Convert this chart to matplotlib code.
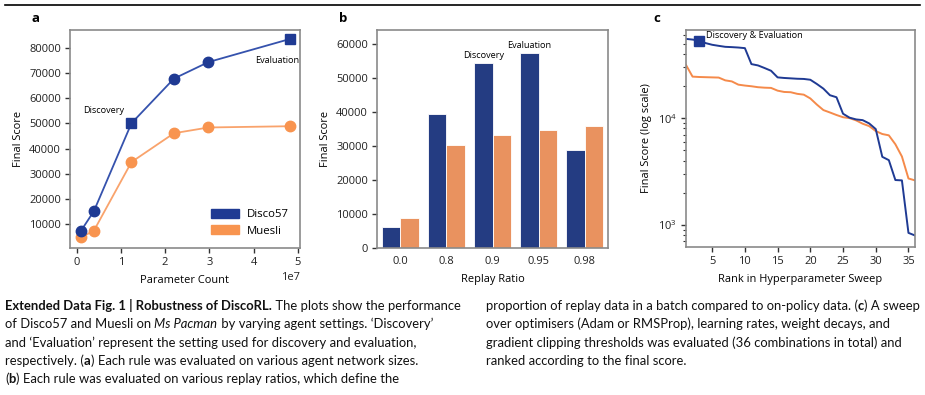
import matplotlib
matplotlib.use('Agg')
import matplotlib.pyplot as plt
from matplotlib.patches import Patch
from matplotlib.lines import Line2D
from matplotlib.ticker import LogLocator, NullFormatter

plt.rcParams['font.family'] = ['Open Sans', 'DejaVu Sans']

# ---------------- data ----------------
# Panel a
param_counts = [1.0e6, 3.9e6, 1.24e7, 2.2e7, 2.98e7, 4.82e7]
disco_a = [7200, 15000, 50100, 67900, 74500, 83700]
muesli_a = [4550, 7200, 34600, 46100, 48400, 48900]
# Panel b
replay_ratios = ['0.0', '0.8', '0.9', '0.95', '0.98']
disco_b = [6260, 39400, 54400, 57350, 28800]
muesli_b = [8700, 30150, 33250, 34750, 35800]
# Panel c
ranks = list(range(1, 37))
disco_c = [55300, 54500, 53300, 50500, 48700, 47600, 46600, 46300, 45900, 45300,
           32100, 31200, 29500, 27800, 24100, 23800, 23600, 23400, 23300, 22900,
           20900, 18900, 16400, 15700, 11000, 10100, 9730, 9580, 8920, 7900,
           4340, 4040, 2630, 2610, 841, 795]
muesli_c = [31500, 24500, 24300, 24200, 24100, 24000, 22600, 22100, 20600, 20200,
            19900, 19500, 19300, 19200, 18100, 17600, 17500, 16900, 16600, 15300,
            13400, 11900, 11300, 10700, 10200, 10000, 9530, 8870, 8420, 7570,
            7100, 6900, 5690, 4370, 2720, 2610]

BLUE = '#1f3a93'
BLUE_LINE = '#3552ad'
ORANGE = '#f8944f'
ORANGE_LINE = '#f9a36c'
BAR_BLUE = '#243c82'
BAR_ORANGE = '#e9925f'
SPINE = '#8a8a8a'
TICK_FS = 8.0
LABEL_FS = 7.9

W, H = 925, 395
fig = plt.figure(figsize=(W / 100, H / 100), dpi=100)


def ax_rect(left, top, right, bottom):
    return [left / W, 1 - bottom / H, (right - left) / W, (bottom - top) / H]


def style(ax, fs=TICK_FS):
    for s in ax.spines.values():
        s.set_color(SPINE)
        s.set_linewidth(1.2)
    ax.tick_params(colors='#222222', labelsize=fs, length=3.5, width=1.0,
                   direction='out', pad=3)
    ax.tick_params(axis='both', which='both', color='#333333')


# top rule
fig.add_artist(Line2D([5 / W, 920 / W], [1 - 5 / H, 1 - 5 / H], color='black', lw=1.2))

# ---------------- panel a ----------------
axa = fig.add_axes(ax_rect(70, 30, 300, 248))
axa.plot(param_counts, muesli_a, color=ORANGE_LINE, lw=1.3, zorder=2)
axa.plot(param_counts, disco_a, color=BLUE_LINE, lw=1.3, zorder=2)
circ = [0, 1, 3, 4]
sq = [2, 5]
axa.plot(param_counts, muesli_a, 'o', color=ORANGE, ms=7.5, zorder=3, lw=0)
axa.plot([param_counts[i] for i in circ], [disco_a[i] for i in circ], 'o', color=BLUE, ms=7.5, zorder=4, lw=0)
axa.plot([param_counts[i] for i in sq], [disco_a[i] for i in sq], 's', color=BLUE, ms=7.5, zorder=4, lw=0)
axa.set_xlim(-0.15e7, 5.05e7)
axa.set_ylim(300, 87300)
axa.set_xticks([0, 1e7, 2e7, 3e7, 4e7, 5e7])
axa.set_yticks([10000, 20000, 30000, 40000, 50000, 60000, 70000, 80000])
axa.set_xlabel('Parameter Count', fontsize=LABEL_FS, labelpad=5)
axa.set_ylabel('Final Score', fontsize=LABEL_FS, labelpad=4)
style(axa)
axa.xaxis.get_offset_text().set_fontsize(TICK_FS)
axa.text(0.62e7, 55000, 'Discovery', fontsize=6.6, ha='center', va='center')
axa.text(4.53e7, 75300, 'Evaluation', fontsize=6.6, ha='center', va='center')
leg = axa.legend(handles=[Patch(color=BLUE, label='Disco57'), Patch(color=ORANGE, label='Muesli')],
                 loc='lower right', frameon=False, fontsize=8.2, handlelength=2.4, handleheight=0.9,
                 borderaxespad=0.6, labelspacing=0.4, handletextpad=0.7)
fig.text(35 / W, 1 - 18 / H, 'a', fontsize=9.5, fontweight='bold', ha='center', va='center')

# ---------------- panel b ----------------
axb = fig.add_axes(ax_rect(377, 30, 608, 248))
xs = list(range(len(replay_ratios)))
bw = 0.4
axb.bar([x - bw / 2 for x in xs], disco_b, width=bw, color=BAR_BLUE, edgecolor='white', linewidth=0.6)
axb.bar([x + bw / 2 for x in xs], muesli_b, width=bw, color=BAR_ORANGE, edgecolor='white', linewidth=0.6)
axb.set_xlim(-0.5, 4.5)
axb.set_ylim(0, 64000)
axb.set_xticks(xs)
axb.set_xticklabels(replay_ratios)
axb.set_yticks([0, 10000, 20000, 30000, 40000, 50000, 60000])
axb.set_xlabel('Replay Ratio', fontsize=LABEL_FS, labelpad=5)
axb.set_ylabel('Final Score', fontsize=LABEL_FS, labelpad=4)
style(axb)
axb.tick_params(axis='x', length=0, pad=6)
axb.text(2 - bw / 2, disco_b[2] + 700, 'Discovery', fontsize=6.6, ha='center', va='bottom')
axb.text(3 - bw / 2, disco_b[3] + 700, 'Evaluation', fontsize=6.6, ha='center', va='bottom')
fig.text(343 / W, 1 - 18 / H, 'b', fontsize=9.5, fontweight='bold', ha='center', va='center')

# ---------------- panel c ----------------
axc = fig.add_axes(ax_rect(686, 30, 915, 247))
axc.plot(ranks, muesli_c, color='#f58a4a', lw=1.4)
axc.plot(ranks, disco_c, color=BLUE, lw=1.4)
axc.plot([ranks[2]], [disco_c[2]], 's', color=BLUE, ms=7.5)
axc.set_yscale('log')
axc.set_xlim(1, 36)
axc.set_ylim(620, 67000)
axc.set_xticks([5, 10, 15, 20, 25, 30, 35])
axc.yaxis.set_major_locator(LogLocator(base=10, numticks=10))
axc.yaxis.set_minor_locator(LogLocator(base=10, subs=range(2, 10), numticks=20))
axc.yaxis.set_minor_formatter(NullFormatter())
axc.set_xlabel('Rank in Hyperparameter Sweep', fontsize=LABEL_FS, labelpad=5)
axc.set_ylabel('Final Score (log scale)', fontsize=LABEL_FS, labelpad=4)
style(axc)
axc.tick_params(axis='y', which='minor', length=2, width=0.8)
axc.text(4.1, 59300, 'Discovery & Evaluation', fontsize=6.6, ha='left', va='center')
fig.text(657 / W, 1 - 18 / H, 'c', fontsize=9.5, fontweight='bold', ha='center', va='center')

# ---------------- caption ----------------
CAP_FONT = ['Lato', 'DejaVu Sans']
left_lines = [
    [('Extended Data Fig. 1 | Robustness of DiscoRL.', 'bold', 'normal'),
     (' The plots show the performance', 'normal', 'normal')],
    [('of Disco57 and Muesli on ', 'normal', 'normal'), ('Ms Pacman', 'normal', 'italic'),
     (' by varying agent settings. \u2018Discovery\u2019', 'normal', 'normal')],
    [('and \u2018Evaluation\u2019 represent the setting used for discovery and evaluation,', 'normal', 'normal')],
    [('respectively. (', 'normal', 'normal'), ('a', 'bold', 'normal'),
     (') Each rule was evaluated on various agent network sizes.', 'normal', 'normal')],
    [('(', 'normal', 'normal'), ('b', 'bold', 'normal'),
     (') Each rule was evaluated on various replay ratios, which define the', 'normal', 'normal')],
]
right_lines = [
    [('proportion of replay data in a batch compared to on-policy data. (', 'normal', 'normal'),
     ('c', 'bold', 'normal'), (') A sweep', 'normal', 'normal')],
    [('over optimisers (Adam or RMSProp), learning rates, weight decays, and', 'normal', 'normal')],
    [('gradient clipping thresholds was evaluated (36 combinations in total) and', 'normal', 'normal')],
    [('ranked according to the final score.', 'normal', 'normal')],
]

renderer = fig.canvas.get_renderer()


def draw_line(parts, x0, y, fs, draw=True):
    x = x0
    arts = []
    for txt, wt, st in parts:
        t = fig.text(x / W, 1 - y / H, txt, fontsize=fs, fontweight=wt, fontstyle=st,
                     family=CAP_FONT, ha='left', va='center', color='#111111')
        bb = t.get_window_extent(renderer=renderer)
        x += bb.width
        arts.append(t)
    if not draw:
        for t in arts:
            t.remove()
    return x - x0


base_fs = 8.5
w1 = draw_line(left_lines[0], 5, 306, base_fs, draw=False)
fs = base_fs * (457 / w1)
ys = [306, 324, 343, 361, 379]
for parts, y in zip(left_lines, ys):
    draw_line(parts, 5, y, fs)
for parts, y in zip(right_lines, ys):
    draw_line(parts, 486, y, fs)

fig.savefig('out.png', dpi=100)
